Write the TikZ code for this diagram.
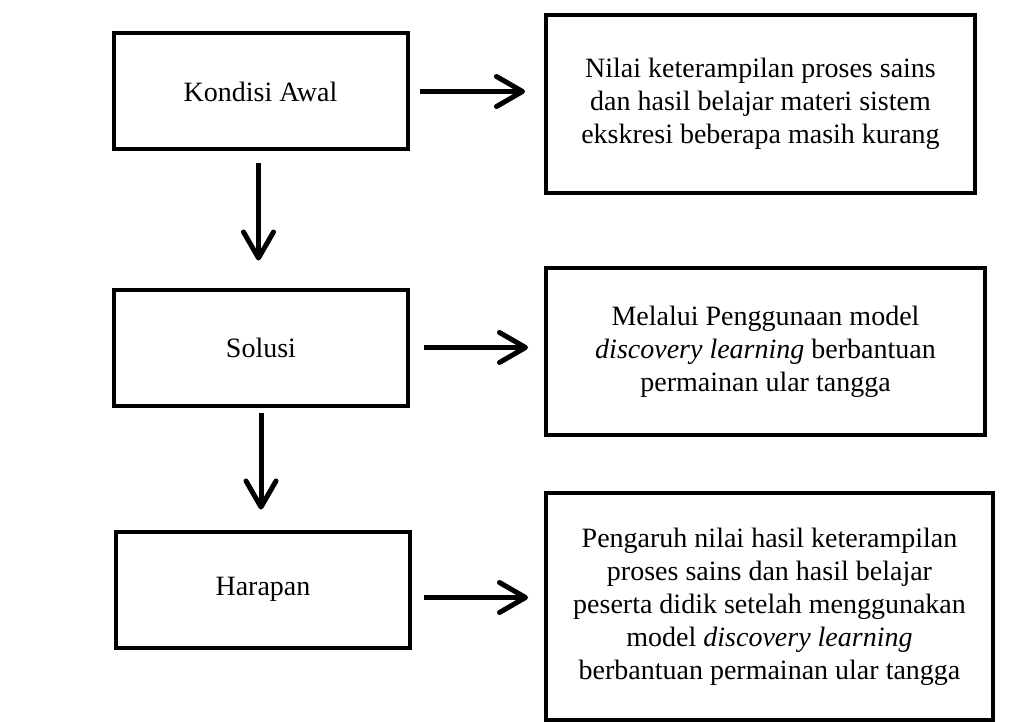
\documentclass[tikz,border=0pt]{standalone}
\usepackage{fontspec}
\setmainfont{Liberation Serif}
\usetikzlibrary{arrows.meta}

\begin{document}
\begin{tikzpicture}[
  x=1pt, y=-1pt,
  every node/.style={font={\fontsize{28}{33}\selectfont}},
  kotak/.style={draw, line width=4pt, align=center, inner sep=0pt},
  kiri/.style={kotak, minimum width=294pt, minimum height=116pt},
  panah/.style={line width=5pt, -{Straight Barb[length=26pt, width=30pt, line cap=round, line join=round]}}
]
\useasboundingbox (0,0) rectangle (1033,722);

% kolom kiri
\node[kiri] (awal) at (260.5,91.5) {Kondisi Awal};
\node[kiri] (solusi) at (261,347.5) {Solusi};
\node[kiri] (harapan) at (263,589.5) {Harapan};

% kolom kanan
\node[kotak, minimum width=429pt, minimum height=178pt] (nilai) at (760.5,104)
  {Nilai keterampilan proses sains\\dan hasil belajar materi sistem\\ekskresi beberapa masih kurang};
\node[kotak, minimum width=439pt, minimum height=167pt] (melalui) at (765.5,351.5)
  {Melalui Penggunaan model\\\textit{discovery learning} berbantuan\\permainan ular tangga};
\node[kotak, minimum width=447pt, minimum height=227pt] (pengaruh) at (769.5,606.5)
  {Pengaruh nilai hasil keterampilan\\proses sains dan hasil belajar\\peserta didik setelah menggunakan\\model \textit{discovery learning}\\berbantuan permainan ular tangga};

% panah
\draw[panah, shorten <=10pt, shorten >=19pt] (awal.east) -- (awal.east -| nilai.west);
\draw[panah, shorten <=14pt, shorten >=16pt] (solusi.east) -- (solusi.east -| melalui.west);
\draw[panah, shorten <=12pt, shorten >=16pt] ([yshift=-8pt]harapan.east) -- ([yshift=-8pt]harapan.east -| pengaruh.west);
\draw[panah, shorten <=12pt, shorten >=27pt] ([xshift=-2pt]awal.south) -- ([xshift=-2pt]awal.south |- solusi.north);
\draw[panah, shorten <=5pt, shorten >=20pt] (solusi.south) -- (solusi.south |- harapan.north);
\end{tikzpicture}
\end{document}
